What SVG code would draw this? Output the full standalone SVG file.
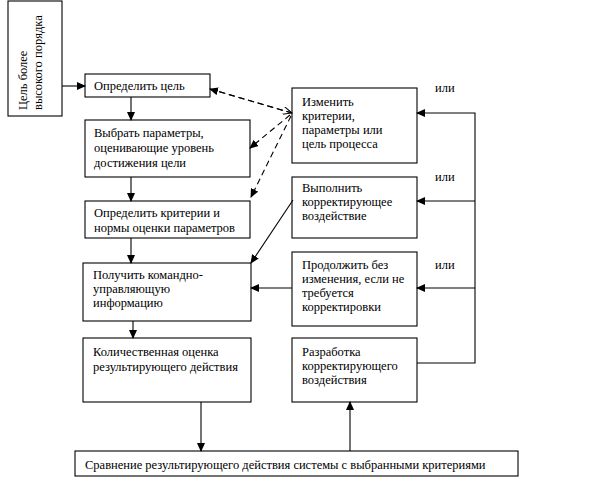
<svg xmlns="http://www.w3.org/2000/svg" width="594" height="488" viewBox="0 0 594 488">
<defs>
<marker id="ah" markerWidth="9" markerHeight="8" refX="8" refY="4" orient="auto" markerUnits="userSpaceOnUse">
<path d="M0,0 L9,4 L0,8 Z" fill="#000"/>
</marker>
<marker id="oh" markerWidth="10" markerHeight="8" refX="9" refY="4" orient="auto" markerUnits="userSpaceOnUse">
<path d="M0,0 L9,4 L0,8" fill="none" stroke="#000" stroke-width="1"/>
</marker>
<style>
rect{fill:#fff;stroke:#000;stroke-width:1.1}
text{font-family:"Liberation Serif","DejaVu Serif",serif;font-size:12.5px;fill:#000}
.c line,.c path{stroke:#000;stroke-width:1.1;fill:none}
.d{stroke-dasharray:6,4}
</style>
</defs>
<g id="n_goal_high">
<rect x="8" y="1" width="54" height="115"/>
<text transform="translate(27,110) rotate(-90)">Цель более</text>
<text transform="translate(42,110) rotate(-90)">высокого порядка</text>
</g>
<g id="n_define_goal">
<rect x="85" y="74" width="125" height="23"/>
<text x="94" y="90">Определить цель</text>
</g>
<g id="n_choose_params">
<rect x="85" y="120" width="165" height="57"/>
<text x="94" y="137">Выбрать параметры,</text>
<text x="94" y="152">оценивающие уровень</text>
<text x="94" y="167">достижения цели</text>
</g>
<g id="n_define_criteria">
<rect x="85" y="201" width="165" height="37"/>
<text x="94" y="217">Определить критерии и</text>
<text x="94" y="232">нормы оценки параметров</text>
</g>
<g id="n_get_info">
<rect x="83" y="263" width="168" height="58"/>
<text x="93" y="279">Получить командно-</text>
<text x="93" y="293">управляющую</text>
<text x="93" y="307">информацию</text>
</g>
<g id="n_quant">
<rect x="83" y="338" width="168" height="64"/>
<text x="93" y="356">Количественная оценка</text>
<text x="93" y="371">результирующего действия</text>
</g>
<g id="n_change">
<rect x="292" y="88" width="125" height="75"/>
<text x="302" y="106">Изменить</text>
<text x="302" y="120">критерии,</text>
<text x="302" y="134">параметры или</text>
<text x="302" y="148">цель процесса</text>
</g>
<g id="n_execute">
<rect x="292" y="177" width="125" height="61"/>
<text x="302" y="192">Выполнить</text>
<text x="302" y="206">корректирующее</text>
<text x="302" y="220">воздействие</text>
</g>
<g id="n_continue">
<rect x="292" y="252" width="125" height="74"/>
<text x="302" y="269">Продолжить без</text>
<text x="302" y="283">изменения, если не</text>
<text x="302" y="297">требуется</text>
<text x="302" y="311">корректировки</text>
</g>
<g id="n_develop">
<rect x="292" y="338" width="125" height="64"/>
<text x="302" y="356">Разработка</text>
<text x="302" y="370">корректирующего</text>
<text x="302" y="384">воздействия</text>
</g>
<g id="n_compare">
<rect x="75" y="451" width="443" height="25"/>
<text x="85" y="469">Сравнение результирующего действия системы с выбранными критериями</text>
</g>
<g id="labels">
<text x="435" y="92">или</text>
<text x="435" y="181">или</text>
<text x="435" y="269">или</text>
</g>
<g id="connectors" class="c">
<line x1="62" y1="86" x2="85" y2="86" marker-end="url(#ah)"/>
<line x1="131" y1="97" x2="131" y2="120" marker-end="url(#ah)"/>
<line x1="131" y1="177" x2="131" y2="201" marker-end="url(#ah)"/>
<line x1="131" y1="238" x2="131" y2="263" marker-end="url(#ah)"/>
<line x1="133" y1="321" x2="133" y2="338" marker-end="url(#ah)"/>
<line x1="201" y1="402" x2="201" y2="451" marker-end="url(#ah)"/>
<line x1="350" y1="451" x2="350" y2="402" marker-end="url(#ah)"/>
<path d="M417,363 H475 V113 H417" marker-end="url(#ah)"/>
<line x1="475" y1="201" x2="417" y2="201" marker-end="url(#ah)"/>
<line x1="475" y1="288" x2="417" y2="288" marker-end="url(#ah)"/>
<line x1="292" y1="288" x2="251" y2="288" marker-end="url(#ah)"/>
<line x1="293" y1="200" x2="251" y2="263" marker-end="url(#ah)"/>
<line class="d" x1="292" y1="113" x2="210" y2="89" marker-end="url(#ah)"/>
<line class="d" x1="210" y1="89" x2="292" y2="113" marker-end="url(#oh)"/>
<line class="d" x1="290" y1="115" x2="250" y2="148" marker-end="url(#ah)"/>
<line class="d" x1="291" y1="116" x2="251" y2="197" marker-end="url(#ah)"/>
</g>
</svg>
